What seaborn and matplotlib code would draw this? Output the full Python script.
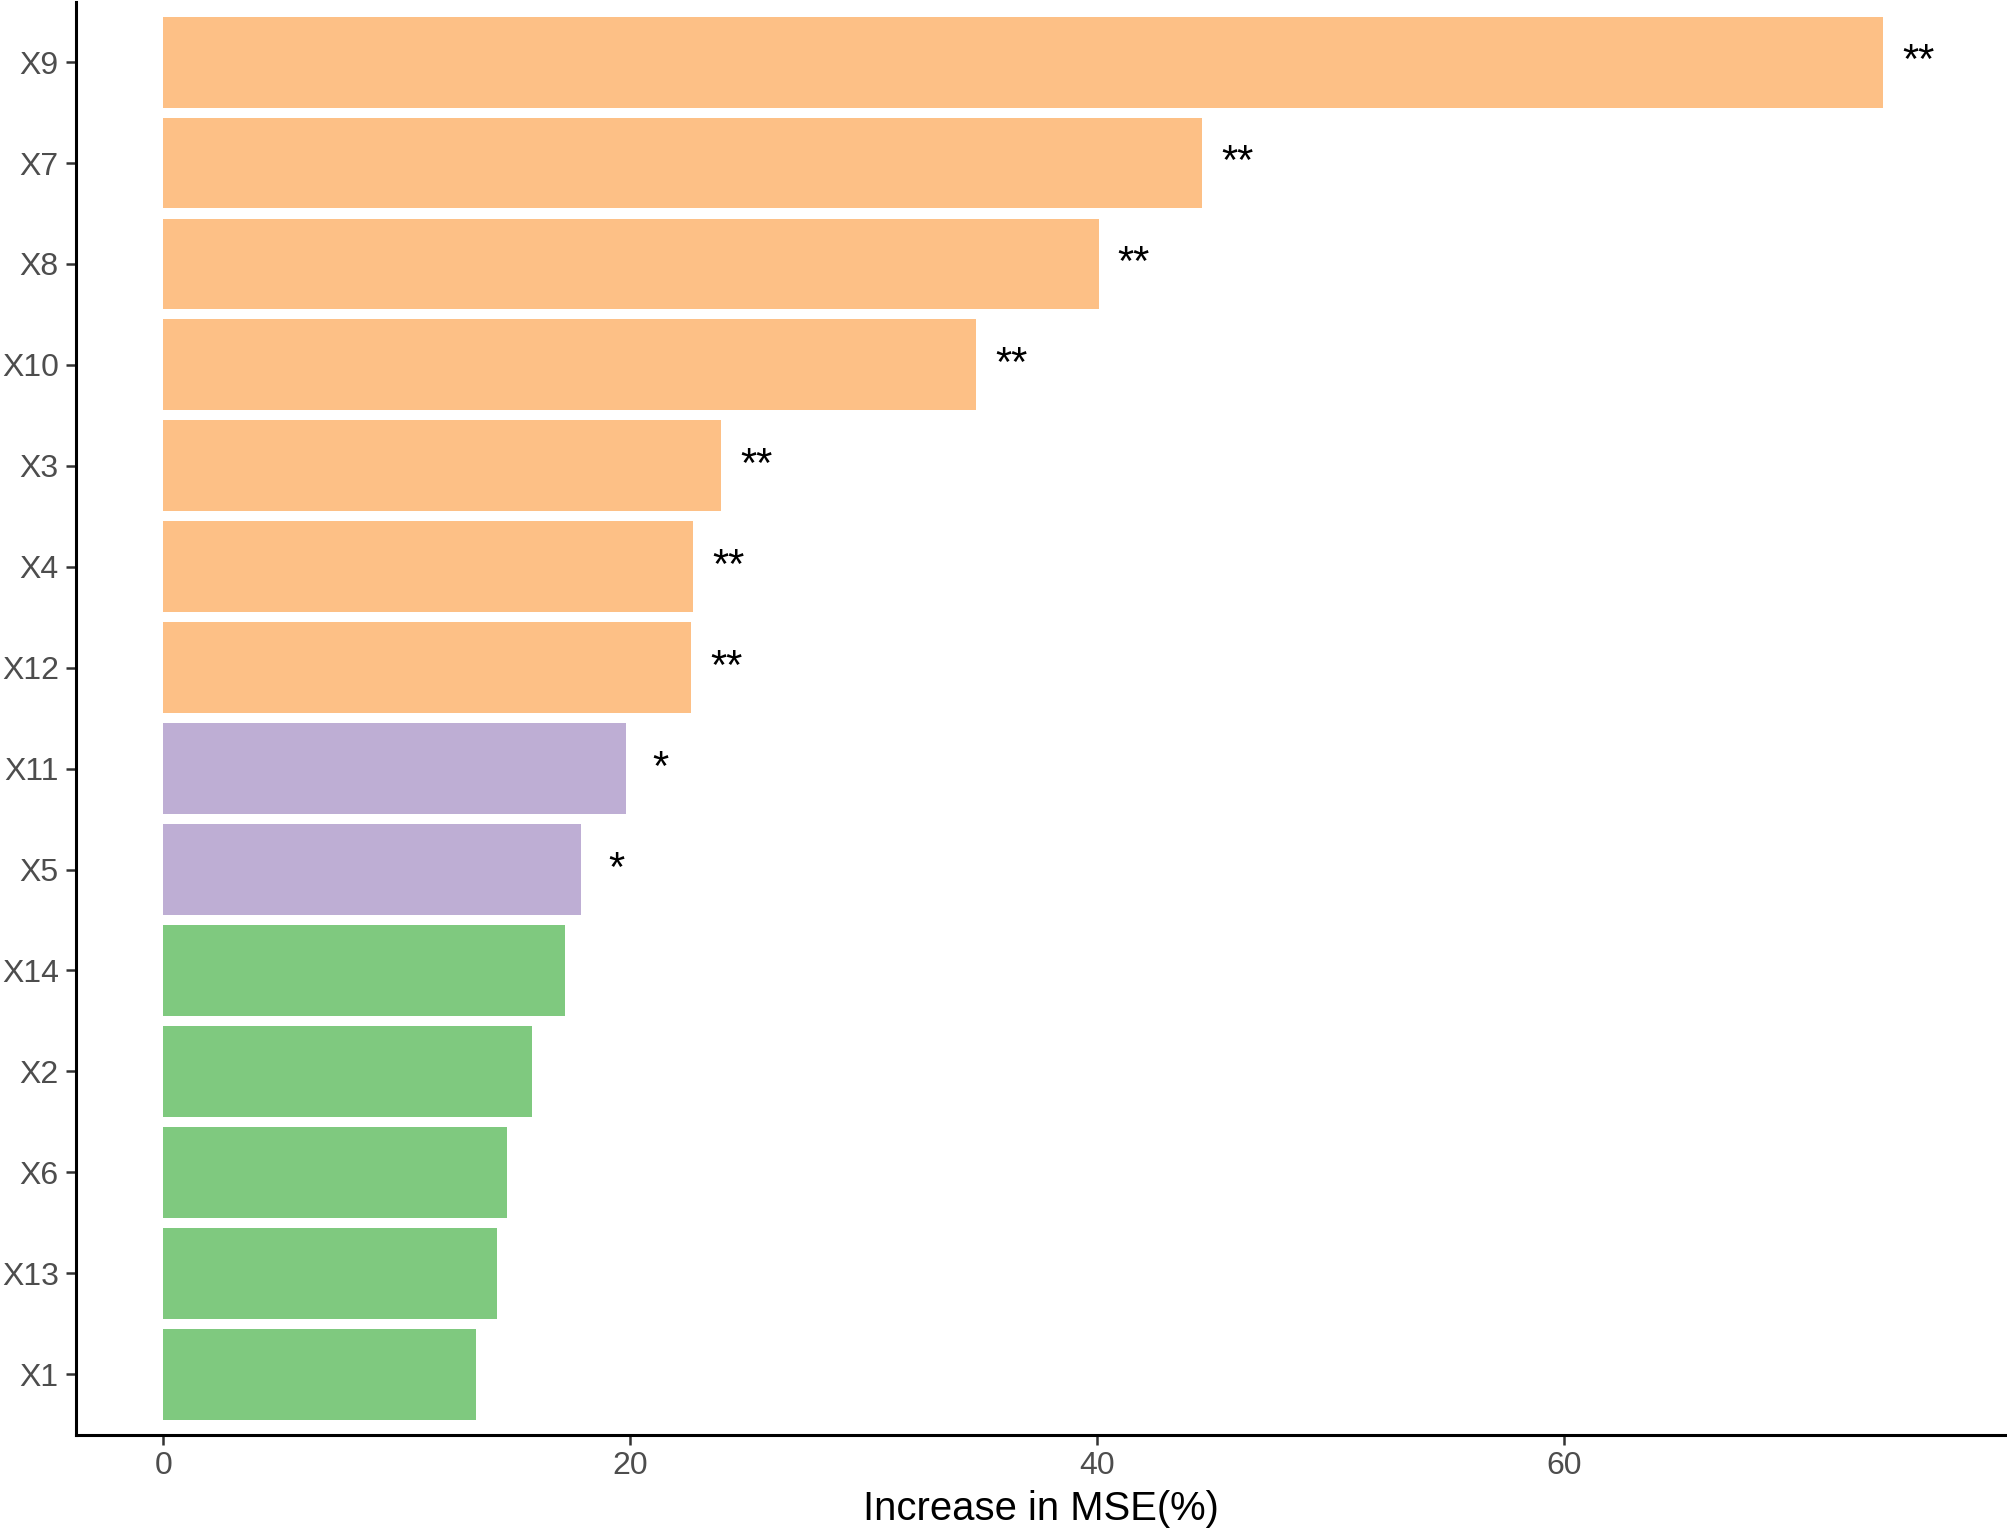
import matplotlib
matplotlib.use("Agg")
import matplotlib.pyplot as plt
import seaborn as sns
import pandas as pd

variables = ["X9", "X7", "X8", "X10", "X3", "X4", "X12", "X11", "X5", "X14", "X2", "X6", "X13", "X1"]
mse_increase = [73.65, 44.5, 40.05, 34.8, 23.9, 22.7, 22.6, 19.8, 17.9, 17.2, 15.8, 14.7, 14.3, 13.4]
significance = ["**", "**", "**", "**", "**", "**", "**", "*", "*", "", "", "", "", ""]
group_colors = {"**": "#FDC086", "*": "#BEAED4", "": "#7FC97F"}

df = pd.DataFrame({"var": variables, "mse": mse_increase, "sig": significance})

sns.set_theme(style="ticks")
plt.rcParams['font.family'] = ['Liberation Sans', 'DejaVu Sans']

fig = plt.figure(figsize=(10.04, 7.66), dpi=200)
ax = fig.add_axes([0.0376, 0.0635, 0.9614, 0.9355])

sns.barplot(data=df, x="mse", y="var", hue="sig", palette=group_colors,
            order=variables, hue_order=["**", "*", ""], dodge=False,
            width=0.9, orient="h", legend=False, ax=ax, saturation=1, linewidth=0)

label_offset = 1.5
xmax = max(mse_increase) + label_offset
pad = 0.05 * xmax
ax.set_xlim(-pad, xmax + pad)
ax.set_ylim(len(variables) - 0.4, -0.6)

for i, (v, s) in enumerate(zip(mse_increase, significance)):
    if s:
        ax.text(v + label_offset, i, s, ha="center", va="center", fontsize=15, color="black")

ax.set_xticks([0, 20, 40, 60])
ax.set_xlabel("Increase in MSE(%)", fontsize=14.4, color="black", labelpad=3)
ax.set_ylabel("")
ax.tick_params(axis="both", labelsize=11.5, labelcolor="#4D4D4D", color="#333333",
               length=3.5, width=0.9, pad=2.5)
for side in ["top", "right"]:
    ax.spines[side].set_visible(False)
for side in ["left", "bottom"]:
    ax.spines[side].set_linewidth(1.1)
    ax.spines[side].set_color("black")

fig.savefig("out.png", dpi=200)
